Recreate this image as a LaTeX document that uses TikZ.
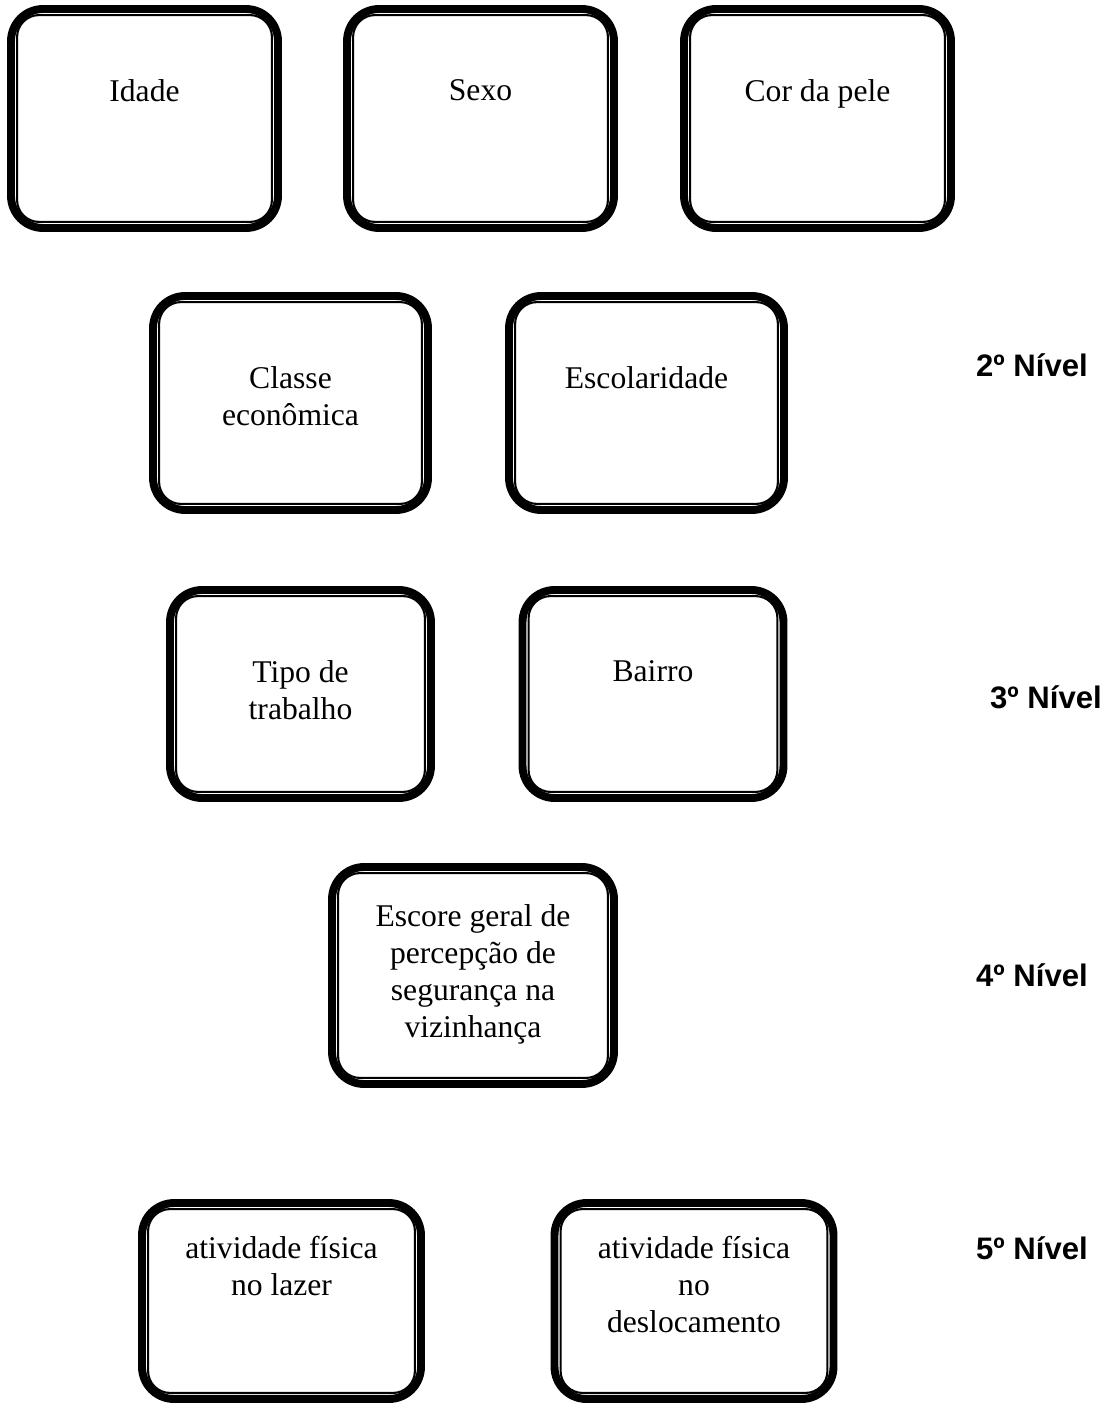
\documentclass[tikz,border=0pt]{standalone}
\usepackage{fontspec}
\setmainfont{Liberation Serif}
\setsansfont{Liberation Sans}
\usetikzlibrary{positioning}
\tikzset{
  caixa/.style={draw,line width=4.5pt,rounded corners=0.64cm,inner sep=0pt},
  fina/.style={draw,line width=1.2pt,rounded corners=0.44cm},
  texto/.style={font=\fontsize{18}{21}\selectfont,align=center,inner sep=0pt},
  nivel/.style={font=\fontsize{17.7}{21}\selectfont\sffamily\bfseries,inner sep=0pt}
}

\begin{document}
\begin{tikzpicture}[x=0.02cm,y=-0.02cm]
\useasboundingbox (0,0) rectangle (1112,1405);
% caixas
\node[caixa,minimum width=5.34cm,minimum height=4.38cm] (idade) at (144.5,118.5) {};
\node[caixa,minimum width=5.34cm,minimum height=4.38cm] (sexo) at (480.5,118.5) {};
\node[caixa,minimum width=5.34cm,minimum height=4.38cm] (cor) at (817.5,118.5) {};
\node[caixa,minimum width=5.50cm,minimum height=4.28cm] (classe) at (290.5,403) {};
\node[caixa,minimum width=5.50cm,minimum height=4.28cm] (escolaridade) at (646.5,403) {};
\node[caixa,minimum width=5.22cm,minimum height=4.16cm] (tipo) at (300.5,694) {};
\node[caixa,minimum width=5.22cm,minimum height=4.16cm] (bairro) at (653,694) {};
\node[caixa,minimum width=5.64cm,minimum height=4.34cm] (escore) at (473,975.5) {};
\node[caixa,minimum width=5.58cm,minimum height=3.92cm] (lazer) at (281.5,1301) {};
\node[caixa,minimum width=5.58cm,minimum height=3.92cm] (deslocamento) at (694,1301) {};
% linha fina de dentro
\foreach \nome in {idade,sexo,cor,classe,escolaridade,tipo,bairro,escore,lazer,deslocamento}
  \draw[fina] ([xshift=0.2cm,yshift=-0.2cm]\nome.north west) rectangle ([xshift=-0.2cm,yshift=0.2cm]\nome.south east);
% textos
\node[texto,below=1.48cm of idade.north] (tidade) {Idade};
\node[texto,below=1.48cm of sexo.north] (tsexo) {Sexo};
\node[texto,below=1.48cm of cor.north] (tcor) {Cor da pele};
\node[texto,below=1.48cm of classe.north] (tclasse) {Classe\\econômica};
\node[texto,below=1.48cm of escolaridade.north] (tescolaridade) {Escolaridade};
\node[texto,below=1.48cm of tipo.north] (ttipo) {Tipo de\\trabalho};
\node[texto,below=1.48cm of bairro.north] (tbairro) {Bairro};
\node[texto,below=0.83cm of escore.north] (tescore) {Escore geral de\\percepção de\\segurança na\\vizinhança};
\node[texto,below=0.74cm of lazer.north] (tlazer) {atividade física\\no lazer};
\node[texto,below=0.74cm of deslocamento.north] (tdeslocamento) {atividade física\\no\\deslocamento};
% niveis
\node[nivel] (n2) at (1032,365) {2º Nível};
\node[nivel] (n3) at (1046,697) {3º Nível};
\node[nivel] (n4) at (1032,975) {4º Nível};
\node[nivel] (n5) at (1032,1248) {5º Nível};
\end{tikzpicture}
\end{document}
